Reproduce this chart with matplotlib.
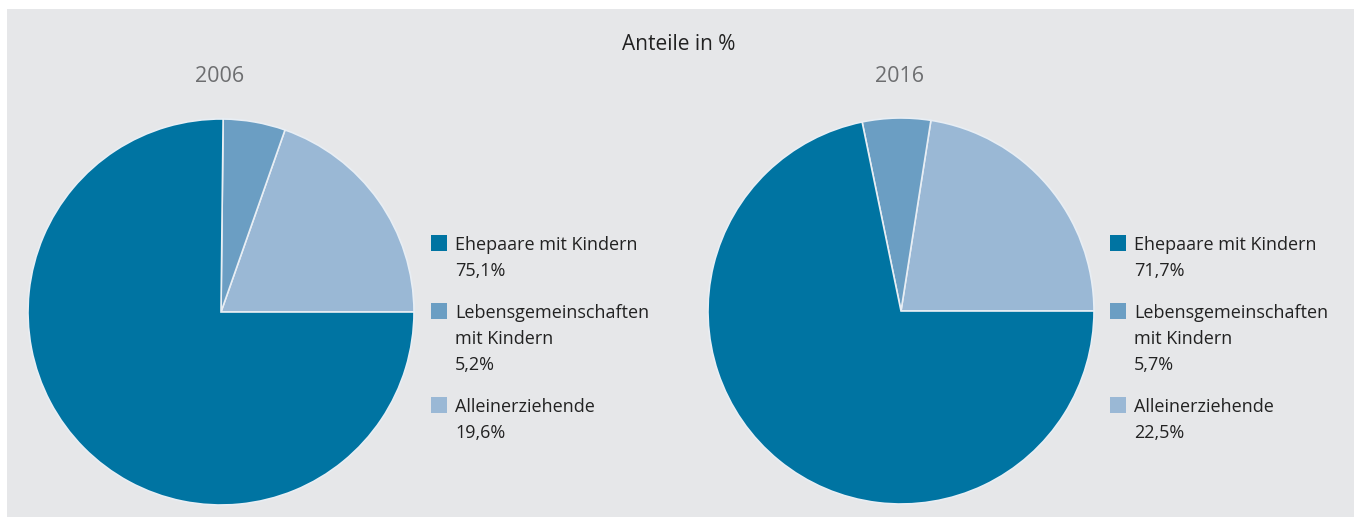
import matplotlib.pyplot as plt
from matplotlib.patches import Rectangle

plt.rcParams['font.family'] = ['Open Sans', 'DejaVu Sans']

# data
years = ['2006', '2016']
labels = ['Ehepaare mit Kindern', 'Lebensgemeinschaften\nmit Kindern', 'Alleinerziehende']
shares_2006 = [75.1, 5.2, 19.6]
shares_2016 = [71.7, 5.7, 22.5]
colors = ['#0074a2', '#6b9ec3', '#9ab8d5']

W, H = 1354, 518
fig = plt.figure(figsize=(W / 100, H / 100), dpi=100)
fig.patch.set_facecolor('white')
# grey panel
fig.patches.append(Rectangle((7 / W, 1 / H), 1, 1 - 10 / H, transform=fig.transFigure,
                             facecolor='#e6e7e9', edgecolor='none', zorder=-10))

def px(x, y):
    return x / W, 1 - y / H

fig.text(*px(679, 45), 'Anteile in %', ha='center', va='center', fontsize=15, color='#222222')

centers = [(221, 312), (901, 311)]
legend_x = [431, 1110]
r = 193
for year, vals, (cx, cy), lx in zip(years, [shares_2006, shares_2016], centers, legend_x):
    ax = fig.add_axes([(cx - r) / W, (H - cy - r) / H, 2 * r / W, 2 * r / H])
    # counterclockwise from 3 o'clock: Alleinerziehende, Lebensgemeinschaften, Ehepaare
    order = [2, 1, 0]
    ax.pie([vals[i] for i in order], colors=[colors[i] for i in order],
           startangle=0, counterclock=True, radius=1,
           wedgeprops=dict(edgecolor='#e8eef4', linewidth=1.2))
    ax.set_xlim(-1, 1)
    ax.set_ylim(-1, 1)
    ax.set_aspect('equal')
    ax.axis('off')
    fig.text(*px(cx - 1, 76), year, ha='center', va='center', fontsize=15.5, color='#6d6e70')

    # legend
    rows = [243, 311, 405]
    for lab, v, col, ry in zip(labels, vals, colors, rows):
        fig.patches.append(Rectangle(((lx) / W, 1 - (ry + 8) / H), 16 / W, 16 / H,
                                     transform=fig.transFigure, facecolor=col, edgecolor='none'))
        lines = lab.split('\n') + [('%.1f%%' % v).replace('.', ',')]
        for k, line in enumerate(lines):
            fig.text(*px(lx + 24, ry + 26 * k), line, ha='left', va='center_baseline',
                     fontsize=13, color='#222222')

fig.savefig('out.png', dpi=100, facecolor=fig.get_facecolor())
